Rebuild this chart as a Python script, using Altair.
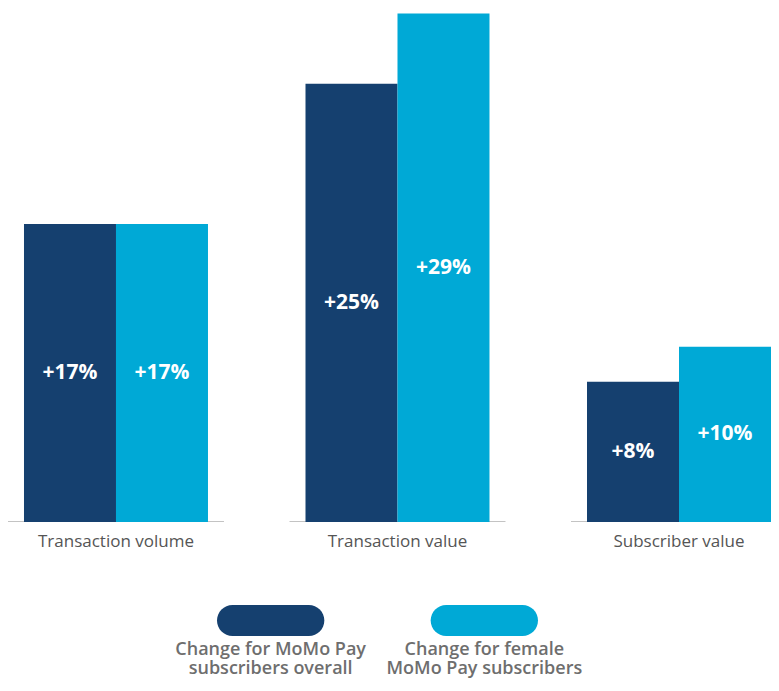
import altair as alt
import pandas as pd

categories = ["Transaction volume", "Transaction value", "Subscriber value"]
series_keys = ["overall", "female"]
series_labels = ["Change for MoMo Pay\nsubscribers overall", "Change for female\nMoMo Pay subscribers"]
overall = [17, 25, 8]
female = [17, 29, 10]
colors = ["#15406F", "#00A9D6"]

rows = []
for i, c in enumerate(categories):
    rows.append({"category": c, "series": "overall", "value": overall[i]})
    rows.append({"category": c, "series": "female", "value": female[i]})
df = pd.DataFrame(rows)
df["mid"] = df["value"] / 2
df["label"] = ["+" + str(v) + "%" for v in df["value"]]

base_df = pd.DataFrame({"category": categories, "zero": [0, 0, 0]})
legend_df = pd.DataFrame({"series": series_keys, "label": series_labels})

W, H = 763, 514

xscale = alt.Scale(type="band", domain=categories, paddingInner=0.3464, paddingOuter=0.0284, align=1)
yscale = alt.Scale(domain=[0, 29.32], nice=False, zero=True)
cscale = alt.Scale(domain=series_keys, range=colors)
offscale = alt.Scale(type="band", domain=series_keys, paddingInner=0, paddingOuter=0)
lscale = alt.Scale(type="band", domain=series_keys, range=[209, 530], paddingInner=0.4977, paddingOuter=0)

baseline = alt.Chart(base_df).mark_tick(size=216, thickness=2, color="#AAAAAA", clip=True).encode(
    x=alt.X("category:N", scale=xscale, sort=categories, axis=None),
    y=alt.Y("zero:Q", scale=yscale, axis=None),
)

bars = alt.Chart(df).mark_bar().encode(
    x=alt.X("category:N", scale=xscale, sort=categories,
            axis=alt.Axis(title=None, domain=False, ticks=False, labelAngle=0,
                          labelFont="Open Sans", labelFontSize=17, labelColor="#555555",
                          labelPadding=11)),
    xOffset=alt.XOffset("series:N", scale=offscale, sort=series_keys),
    y=alt.Y("value:Q", scale=yscale, axis=None),
    color=alt.Color("series:N", scale=cscale, legend=None),
)

texts = alt.Chart(df).mark_text(color="white", font="Open Sans", fontWeight="bold", fontSize=21).encode(
    x=alt.X("category:N", scale=xscale, sort=categories, axis=None),
    xOffset=alt.XOffset("series:N", scale=offscale, sort=series_keys),
    y=alt.Y("mid:Q", scale=yscale, axis=None),
    text="label:N",
)

pills = alt.Chart(legend_df).mark_bar(cornerRadius=15.5).encode(
    x=alt.X("series:N", scale=lscale, sort=series_keys, axis=None),
    y=alt.value(597),
    y2=alt.value(628),
    color=alt.Color("series:N", scale=cscale, legend=None),
)

ltexts = alt.Chart(legend_df).mark_text(
    font="Open Sans", fontWeight=600, fontSize=18, color="#6E6E6E",
    lineBreak="\n", lineHeight=19, baseline="top", align="center"
).encode(
    x=alt.X("series:N", scale=lscale, sort=series_keys, axis=None),
    y=alt.value(633),
    text="label:N",
)

chart = alt.layer(baseline, bars, texts, pills, ltexts).resolve_scale(
    x="independent"
).properties(
    width=W, height=H,
    padding={"left": 0, "top": 0, "right": 0, "bottom": 156},
    autosize=alt.AutoSizeParams(type="none"),
).configure_view(stroke=None)

chart.save("out.html", embed_options={"renderer": "svg", "actions": False})
